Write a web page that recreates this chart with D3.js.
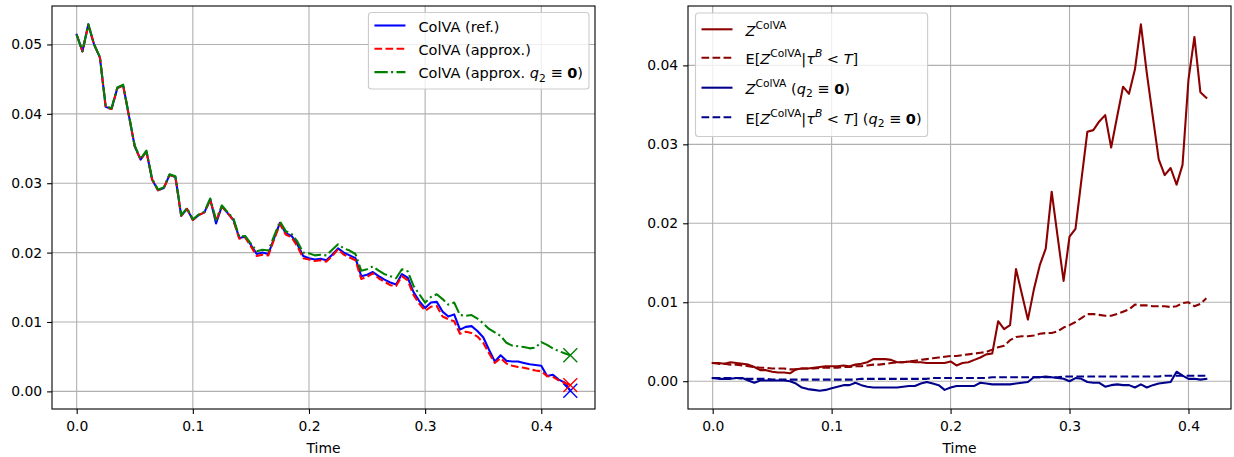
<!DOCTYPE html>
<html>
<head>
<meta charset="utf-8">
<script src="https://cdn.jsdelivr.net/npm/d3@7"></script>
<style>
  body { margin: 0; background: #fff; }
  svg { display: block; }
  text { font-family: "DejaVu Sans", sans-serif; }
</style>
</head>
<body>
<svg id="chart" width="1234" height="457"></svg>
<script>
// ---- data ----------------------------------------------------------------
const timeLeft = [
  0.000,0.005,0.010,0.015,0.020,0.025,0.030,0.035,0.040,0.045,
  0.050,0.055,0.060,0.065,0.070,0.075,0.080,0.085,0.090,0.095,
  0.100,0.105,0.110,0.115,0.120,0.125,0.130,0.135,0.140,0.145,
  0.150,0.155,0.160,0.165,0.170,0.175,0.180,0.185,0.190,0.195,
  0.200,0.205,0.210,0.215,0.220,0.225,0.230,0.235,0.240,0.245,
  0.250,0.255,0.260,0.265,0.270,0.275,0.280,0.285,0.290,0.295,
  0.300,0.305,0.310,0.315,0.320,0.325,0.330,0.335,0.340,0.345,
  0.350,0.355,0.360,0.365,0.370,0.375,0.380,0.385,0.390,0.395,
  0.400,0.405,0.410,0.415,0.420,0.425];

const colvaRef = [
  0.0514,0.0490,0.0529,0.0500,0.0481,0.0410,0.0407,0.0437,0.0441,0.0397,
  0.0353,0.0334,0.0346,0.0305,0.0290,0.0293,0.0312,0.0309,0.0253,0.0263,
  0.0247,0.0254,0.0258,0.0277,0.0242,0.0267,0.0257,0.0247,0.0221,0.0223,
  0.0211,0.0198,0.0200,0.0198,0.0221,0.0243,0.0228,0.0224,0.0212,0.0195,
  0.0192,0.0190,0.0191,0.0189,0.0197,0.0206,0.0200,0.0196,0.0192,0.0166,
  0.0168,0.0172,0.0166,0.0161,0.0157,0.0154,0.0169,0.0164,0.0143,0.0130,
  0.0120,0.0128,0.0129,0.0115,0.0108,0.0111,0.0089,0.0093,0.0094,0.0087,
  0.0078,0.0060,0.0043,0.0052,0.0044,0.0043,0.0043,0.0041,0.0039,0.0038,
  0.0037,0.0022,0.0024,0.0017,0.0013,0.0001];

const colvaApprox = [
  0.0514,0.0490,0.0528,0.0500,0.0481,0.0409,0.0407,0.0437,0.0441,0.0397,
  0.0353,0.0334,0.0346,0.0305,0.0290,0.0293,0.0312,0.0309,0.0253,0.0263,
  0.0247,0.0254,0.0258,0.0276,0.0246,0.0266,0.0257,0.0246,0.0220,0.0222,
  0.0209,0.0195,0.0197,0.0196,0.0219,0.0241,0.0226,0.0222,0.0209,0.0192,
  0.0190,0.0188,0.0189,0.0187,0.0195,0.0205,0.0197,0.0193,0.0189,0.0162,
  0.0165,0.0170,0.0163,0.0158,0.0153,0.0152,0.0166,0.0160,0.0139,0.0126,
  0.0116,0.0122,0.0123,0.0108,0.0104,0.0101,0.0083,0.0086,0.0084,0.0079,
  0.0070,0.0055,0.0041,0.0048,0.0040,0.0037,0.0035,0.0034,0.0032,0.0030,
  0.0029,0.0022,0.0021,0.0016,0.0012,0.0009];

const colvaApproxQ0 = [
  0.0514,0.0490,0.0529,0.0500,0.0482,0.0411,0.0408,0.0438,0.0442,0.0398,
  0.0354,0.0335,0.0347,0.0306,0.0291,0.0294,0.0313,0.0310,0.0254,0.0264,
  0.0248,0.0255,0.0259,0.0278,0.0247,0.0268,0.0258,0.0249,0.0223,0.0224,
  0.0213,0.0202,0.0204,0.0203,0.0224,0.0245,0.0231,0.0227,0.0216,0.0200,
  0.0199,0.0196,0.0197,0.0196,0.0204,0.0212,0.0206,0.0203,0.0198,0.0174,
  0.0176,0.0180,0.0174,0.0169,0.0166,0.0163,0.0176,0.0173,0.0152,0.0140,
  0.0128,0.0136,0.0140,0.0133,0.0125,0.0128,0.0110,0.0109,0.0110,0.0105,
  0.0098,0.0090,0.0085,0.0080,0.0070,0.0066,0.0065,0.0064,0.0062,0.0063,
  0.0071,0.0067,0.0062,0.0058,0.0055,0.0052];

const timeRight = timeLeft.slice(0, 84);

const zColva = [
  0.0023,0.0023,0.0022,0.0024,0.0023,0.0022,0.0021,0.0018,0.0014,0.0014,
  0.0012,0.0011,0.0011,0.0010,0.0015,0.0016,0.0016,0.0017,0.0018,0.0019,
  0.0019,0.0019,0.0020,0.0019,0.0021,0.0022,0.0024,0.0028,0.0028,0.0028,
  0.0027,0.0024,0.0024,0.0025,0.0024,0.0024,0.0023,0.0023,0.0023,0.0023,
  0.0025,0.0020,0.0023,0.0024,0.0027,0.0030,0.0034,0.0035,0.0076,0.0066,
  0.0071,0.0142,0.0110,0.0078,0.0116,0.0147,0.0168,0.0240,0.0183,0.0127,
  0.0183,0.0193,0.0255,0.0316,0.0318,0.0329,0.0337,0.0296,0.0335,0.0373,
  0.0364,0.0395,0.0452,0.0390,0.0335,0.0281,0.0261,0.0270,0.0249,0.0274,
  0.0382,0.0436,0.0366,0.0359];

const zColvaCond = [
  0.0023,0.0022,0.0022,0.0021,0.0021,0.0020,0.0019,0.0018,0.0017,0.0017,
  0.0016,0.0016,0.0016,0.0015,0.0015,0.0016,0.0016,0.0016,0.0017,0.0017,
  0.0017,0.0017,0.0018,0.0018,0.0019,0.0019,0.0020,0.0021,0.0021,0.0022,
  0.0023,0.0024,0.0024,0.0025,0.0026,0.0027,0.0028,0.0029,0.0030,0.0031,
  0.0032,0.0032,0.0033,0.0034,0.0035,0.0036,0.0037,0.0040,0.0043,0.0045,
  0.0052,0.0056,0.0057,0.0057,0.0058,0.0060,0.0061,0.0061,0.0063,0.0068,
  0.0071,0.0075,0.0080,0.0085,0.0085,0.0084,0.0083,0.0083,0.0085,0.0088,
  0.0091,0.0097,0.0096,0.0096,0.0095,0.0095,0.0095,0.0094,0.0095,0.0099,
  0.0100,0.0095,0.0098,0.0105];

const zColvaQ0 = [
  0.0004,0.0003,0.0003,0.0003,0.0004,0.0004,0.0001,-0.0002,0.0001,0.0001,
  0.0001,0.0001,0.0001,0.0000,-0.0003,-0.0008,-0.0010,-0.0011,-0.0012,-0.0011,
  -0.0009,-0.0007,-0.0005,-0.0005,-0.0002,-0.0005,-0.0007,-0.0008,-0.0008,-0.0008,
  -0.0008,-0.0008,-0.0007,-0.0006,-0.0006,-0.0003,-0.0001,-0.0003,-0.0005,-0.0011,
  -0.0008,-0.0006,-0.0006,-0.0006,-0.0006,-0.0002,-0.0003,-0.0004,-0.0004,-0.0004,
  -0.0004,-0.0003,-0.0002,-0.0001,0.0005,0.0005,0.0006,0.0005,0.0004,0.0003,
  0.0000,0.0004,0.0003,-0.0001,-0.0002,-0.0002,-0.0007,-0.0005,-0.0004,-0.0005,
  -0.0005,-0.0008,-0.0004,-0.0008,-0.0005,-0.0003,-0.0002,-0.0001,0.0012,0.0007,
  0.0003,0.0003,0.0002,0.0003];

const zColvaCondQ0 = [
  0.0004,0.0004,0.0004,0.0004,0.0004,0.0003,0.0003,0.0003,0.0003,0.0003,
  0.0002,0.0002,0.0002,0.0002,0.0002,0.0002,0.0002,0.0002,0.0002,0.0002,
  0.0002,0.0002,0.0002,0.0002,0.0002,0.0003,0.0003,0.0003,0.0003,0.0003,
  0.0003,0.0003,0.0003,0.0003,0.0003,0.0003,0.0003,0.0004,0.0004,0.0004,
  0.0004,0.0004,0.0004,0.0004,0.0004,0.0004,0.0004,0.0005,0.0005,0.0005,
  0.0005,0.0005,0.0005,0.0005,0.0005,0.0005,0.0005,0.0005,0.0005,0.0006,
  0.0006,0.0006,0.0006,0.0006,0.0006,0.0006,0.0006,0.0006,0.0006,0.0006,
  0.0006,0.0006,0.0006,0.0006,0.0006,0.0006,0.0007,0.0007,0.0007,0.0007,
  0.0007,0.0007,0.0007,0.0007];

const xTicks = [0.0, 0.1, 0.2, 0.3, 0.4];
const yTicksLeft = [0.00, 0.01, 0.02, 0.03, 0.04, 0.05];
const yTicksRight = [0.00, 0.01, 0.02, 0.03, 0.04];

// legend label pieces: it = italic, b = bold, sup / sub = script level
const Q0 = [{t: "q", it: 1}, {t: "2", sub: 1}, {t: " ≡ "}, {t: "0", b: 1}, {t: ")"}];
const ZC = [{t: "Z", it: 1}, {t: "ColVA", sup: 1}];
const EZ = [{t: "E["}, ...ZC, {t: "|"}, {t: "τ", it: 1}, {t: "B", it: 1, sup: 1},
            {t: " < "}, {t: "T", it: 1}, {t: "]"}];

// ---- drawing ---------------------------------------------------------------
const FS = 13.9;      // tick / axis label size
const LFS = 14.5;     // legend text size
const svg = d3.select("#chart");

function padded(lo, hi) {
  const m = (hi - lo) * 0.05;
  return [lo - m, hi + m];
}

function richText(g, x, y, parts) {
  const t = g.append("text").attr("x", x).attr("y", y)
    .attr("font-size", LFS).attr("fill", "#000");
  let shift = 0;
  parts.forEach(p => {
    let target = 0, size = LFS;
    if (p.sup) { target = -0.45 * LFS; size = 0.74 * LFS; }
    if (p.sub) { target = 0.22 * LFS; size = 0.74 * LFS; }
    t.append("tspan")
      .attr("dy", target - shift)
      .attr("font-size", size)
      .attr("font-style", p.it ? "italic" : "normal")
      .attr("font-weight", p.b ? "bold" : "normal")
      .style("white-space", "pre")
      .text(p.t);
    shift = target;
  });
  return t;
}

function drawPanel(cfg, idx) {
  const { left, right, top, bottom } = cfg;
  const allX = cfg.time;
  const allY = cfg.series.flatMap(s => s.values);
  const x = d3.scaleLinear().domain(padded(d3.min(allX), d3.max(allX))).range([left, right]);
  const y = d3.scaleLinear().domain(padded(d3.min(allY), d3.max(allY))).range([bottom, top]);

  const g = svg.append("g");
  const clipId = "clip" + idx;
  svg.append("defs").append("clipPath").attr("id", clipId)
    .append("rect").attr("x", left).attr("y", top)
    .attr("width", right - left).attr("height", bottom - top);

  // grid
  const grid = g.append("g").attr("stroke", "#b0b0b0").attr("stroke-width", 1.1);
  xTicks.forEach(v => grid.append("line")
    .attr("x1", x(v)).attr("x2", x(v)).attr("y1", top).attr("y2", bottom));
  cfg.yTicks.forEach(v => grid.append("line")
    .attr("x1", left).attr("x2", right).attr("y1", y(v)).attr("y2", y(v)));

  // series
  const plot = g.append("g").attr("clip-path", `url(#${clipId})`);
  const line = d3.line().x(d => x(d[0])).y(d => y(d[1]));
  cfg.series.forEach(s => {
    const pts = cfg.time.map((t, i) => [t, s.values[i]]);
    plot.append("path")
      .attr("d", line(pts))
      .attr("fill", "none")
      .attr("stroke", s.color)
      .attr("stroke-width", 2.08)
      .attr("stroke-linejoin", "round")
      .attr("stroke-linecap", s.dash ? "butt" : "square")
      .attr("stroke-dasharray", s.dash || null);
  });
  cfg.series.filter(s => s.marker).forEach(s => {
    const last = s.values.length - 1;
    const h = 6.95;
    plot.append("path")
      .attr("transform", `translate(${x(cfg.time[last])},${y(s.values[last])})`)
      .attr("d", `M${-h},${-h}L${h},${h}M${-h},${h}L${h},${-h}`)
      .attr("stroke", s.color).attr("stroke-width", 1.4).attr("fill", "none");
  });

  // axes
  const xAxis = d3.axisBottom(x).tickValues(xTicks).tickFormat(d3.format(".1f"))
    .tickSize(4.9).tickPadding(7.0);
  const yAxis = d3.axisLeft(y).tickValues(cfg.yTicks).tickFormat(d3.format(".2f"))
    .tickSize(4.9).tickPadding(4.9);
  const gx = g.append("g").attr("transform", `translate(0,${bottom})`).call(xAxis);
  const gy = g.append("g").attr("transform", `translate(${left},0)`).call(yAxis);
  [gx, gy].forEach(a => {
    a.select(".domain").remove();
    a.selectAll(".tick line").attr("stroke", "#000").attr("stroke-width", 1.1);
    a.selectAll(".tick text").attr("font-size", FS).attr("fill", "#000")
      .attr("font-family", "DejaVu Sans");
  });

  // spines
  g.append("rect").attr("x", left).attr("y", top)
    .attr("width", right - left).attr("height", bottom - top)
    .attr("fill", "none").attr("stroke", "#000").attr("stroke-width", 1.1);

  g.append("text").attr("x", (left + right) / 2).attr("y", 452.5)
    .attr("text-anchor", "middle").attr("font-size", FS).text("Time");

  // legend
  const lg = g.append("g");
  const frame = lg.append("rect");
  const padL = 6, handleLen = 31, gap = 13, padR = 6;
  const texts = cfg.series.map((s, i) =>
    richText(lg, 0, cfg.legend.rows[i] + 6.3, s.label));
  const maxW = d3.max(texts, t => t.node().getComputedTextLength());
  const boxW = padL + handleLen + gap + maxW + padR;
  const boxL = cfg.legend.anchor === "right" ? cfg.legend.x - boxW : cfg.legend.x;
  texts.forEach(t => t.attr("x", boxL + padL + handleLen + gap));
  cfg.series.forEach((s, i) => {
    lg.append("line")
      .attr("x1", boxL + padL).attr("x2", boxL + padL + handleLen)
      .attr("y1", cfg.legend.rows[i]).attr("y2", cfg.legend.rows[i])
      .attr("stroke", s.color).attr("stroke-width", 2.08)
      .attr("stroke-dasharray", s.dash || null);
  });
  frame.attr("x", boxL).attr("y", cfg.legend.top)
    .attr("width", boxW).attr("height", cfg.legend.bottom - cfg.legend.top)
    .attr("rx", 3).attr("fill", "#fff").attr("fill-opacity", 0.8)
    .attr("stroke", "#cccccc").attr("stroke-width", 1.1);
}

const DASHED = "7.7,3.33";
const DASHDOT = "13.3,3.33,2.08,3.33";

drawPanel({
  left: 52, right: 595, top: 6, bottom: 409,
  time: timeLeft, yTicks: yTicksLeft,
  series: [
    { values: colvaRef, color: "#0000ff", marker: true, label: [{t: "ColVA (ref.)"}] },
    { values: colvaApprox, color: "#ff0000", dash: DASHED, marker: true, label: [{t: "ColVA (approx.)"}] },
    { values: colvaApproxQ0, color: "#008000", dash: DASHDOT, marker: true,
      label: [{t: "ColVA (approx. "}, ...Q0] }
  ],
  legend: { anchor: "right", x: 589, top: 12.5, bottom: 89, rows: [25.5, 48.8, 72.1] }
}, 0);

drawPanel({
  left: 688, right: 1231, top: 6, bottom: 409,
  time: timeRight, yTicks: yTicksRight,
  series: [
    { values: zColva, color: "#8b0000", label: ZC },
    { values: zColvaCond, color: "#8b0000", dash: DASHED, label: EZ },
    { values: zColvaQ0, color: "#00008b", label: [...ZC, {t: " ("}, ...Q0] },
    { values: zColvaCondQ0, color: "#00008b", dash: DASHED, label: [...EZ, {t: " ("}, ...Q0] }
  ],
  legend: { anchor: "left", x: 695.5, top: 13, bottom: 136.5, rows: [29.3, 57.7, 87.7, 117.3] }
}, 1);
</script>
</body>
</html>
